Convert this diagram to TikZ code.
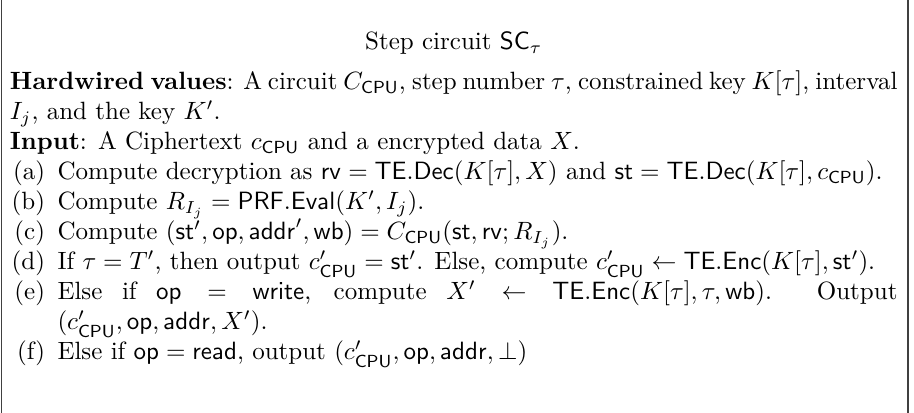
\documentclass[tikz,border=0pt]{standalone}
\usepackage{amsmath,amssymb}
\usepackage{enumitem}
\tikzset{
  frameline/.style={line width=0.6pt, black!75},
  bodytext/.style={anchor=base west, inner sep=0pt, outer sep=0pt}
}
\newcommand{\cpu}{\mathsf{CPU}}
\begin{document}
\begin{tikzpicture}[x=1pt,y=1pt]
  % page extent
  \useasboundingbox (0,0) rectangle (365.6,-165.2);
  % side rules of the frame
  \coordinate (lt) at (0.6,0);
  \coordinate (lb) at (0.6,-165.2);
  \coordinate (rt) at (363.2,0);
  \coordinate (rb) at (363.2,-165.2);
  \draw[frameline] (lt) -- (lb);
  \draw[frameline] (rt) -- (rb);
  % circuit description
  \node[bodytext] (body) at (4,-20) {%
    \begin{minipage}[t]{355pt}
      \setlength{\parindent}{0pt}%
      \hyphenpenalty=10000 \exhyphenpenalty=10000
      {\centering Step circuit $\mathsf{SC}_\tau$\par}
      \vspace{4pt}
      \textbf{Hardwired values}: A circuit $C_{\cpu}$, step number $\tau$, constrained key $K[\tau]$, interval $I_j$, and the key $K'$.\par
      \textbf{Input}: A Ciphertext $c_{\cpu}$ and a encrypted data $X$.
      \begin{enumerate}[label=(\alph*),leftmargin=19pt,labelsep=5pt,itemsep=0pt,topsep=0pt,parsep=0pt,partopsep=0pt]
        \item Compute decryption as $\mathsf{rv}=\mathsf{TE.Dec}(K[\tau],X)$ and $\mathsf{st}=\mathsf{TE.Dec}(K[\tau],c_{\cpu})$.
        \item Compute $R_{I_j}=\mathsf{PRF.Eval}(K',I_j)$.
        \item Compute $(\mathsf{st}',\mathsf{op},\mathsf{addr}',\mathsf{wb})=C_{\cpu}(\mathsf{st},\mathsf{rv};R_{I_j})$.
        \item If $\tau=T'$, then output $c'_{\cpu}=\mathsf{st}'$. Else, compute $c'_{\cpu}\leftarrow\mathsf{TE.Enc}(K[\tau],\mathsf{st}')$.
        \item Else if $\mathsf{op}=\mathsf{write}$, compute $X'\leftarrow\mathsf{TE.Enc}(K[\tau],\tau,\mathsf{wb})$. Output $(c'_{\cpu},\mathsf{op},\mathsf{addr},X')$.
        \item Else if $\mathsf{op}=\mathsf{read}$, output $(c'_{\cpu},\mathsf{op},\mathsf{addr},\perp)$
      \end{enumerate}
    \end{minipage}};
\end{tikzpicture}
\end{document}
